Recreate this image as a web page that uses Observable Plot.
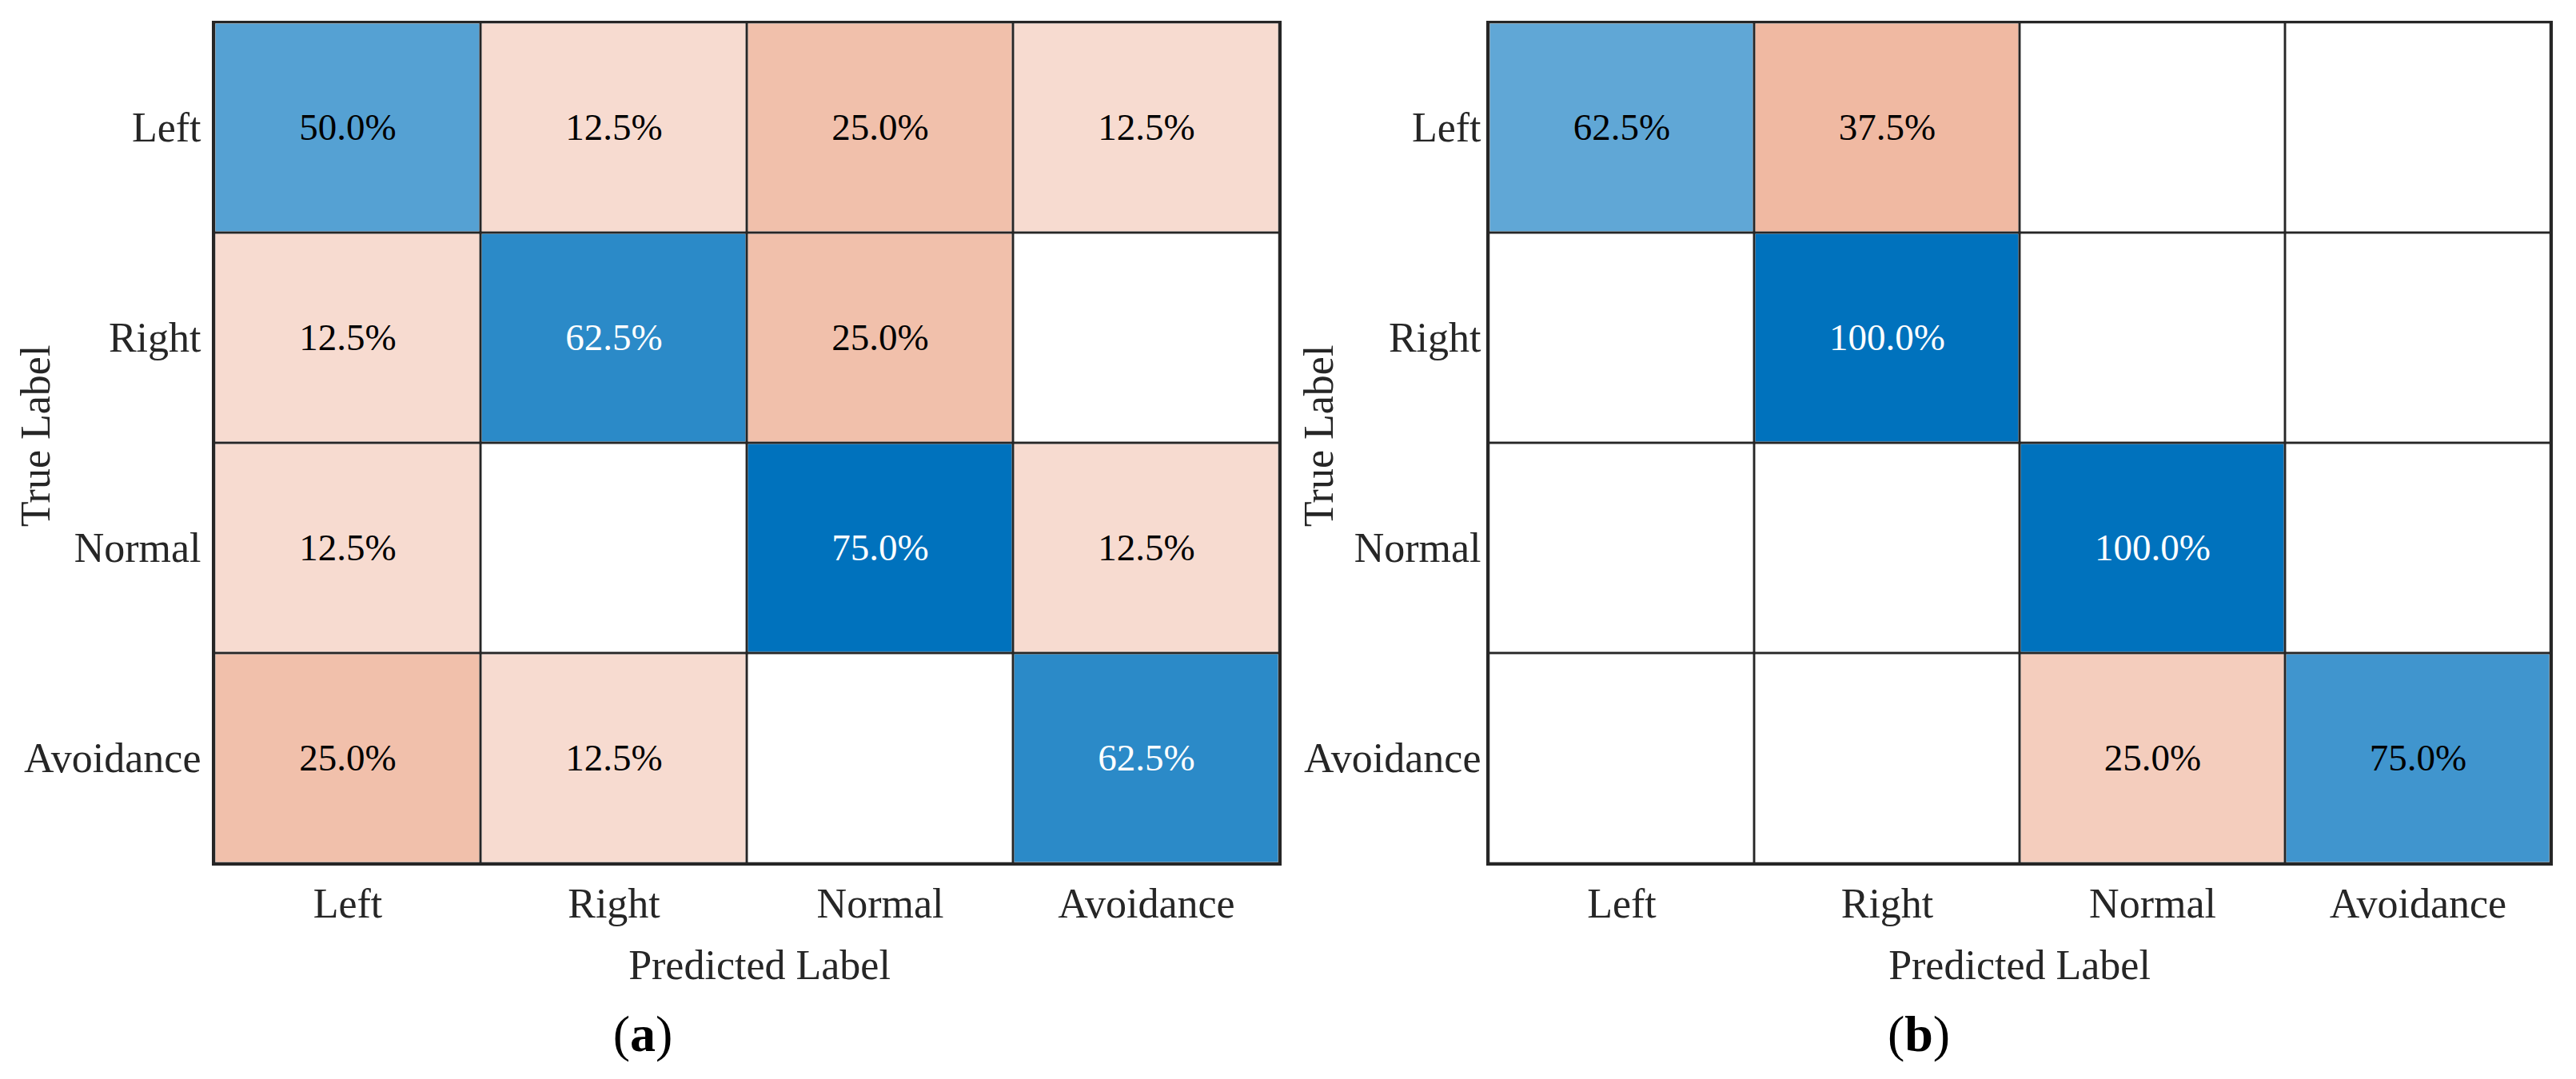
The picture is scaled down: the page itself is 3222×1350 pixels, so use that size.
<!DOCTYPE html>
<html><head><meta charset="utf-8">
<script src="https://cdn.jsdelivr.net/npm/d3@7"></script>
<script src="https://cdn.jsdelivr.net/npm/@observablehq/plot@0.6"></script>
<style>
body{margin:0;background:#fff;}
#wrap{position:relative;width:3222px;height:1350px;overflow:hidden;font-family:"Liberation Serif",serif;}
.panel{position:absolute;top:0;}
.cap{position:absolute;top:1262px;font-size:64px;color:#000;transform:translateX(-50%);line-height:1;font-family:"Liberation Serif",serif;}
.cap b{font-weight:bold;}
</style></head><body>
<div id="wrap"></div>
<script>
const classes = ["Left", "Right", "Normal", "Avoidance"];
// rows = true label, columns = predicted label (percent)
const matrixA = [
  [50.0, 12.5, 25.0, 12.5],
  [12.5, 62.5, 25.0, 0],
  [12.5, 0, 75.0, 12.5],
  [25.0, 12.5, 0, 62.5]
];
const matrixB = [
  [62.5, 37.5, 0, 0],
  [0, 100.0, 0, 0],
  [0, 0, 100.0, 0],
  [0, 0, 25.0, 75.0]
];
const xTitle = "Predicted Label";
const yTitle = "True Label";
const diagColor = "#0072BD";
const offColor = "#D95319";
const offTint = "#FDF6F4";

function panel(matrix, opt) {
  const all = [];
  matrix.forEach((row, i) => row.forEach((v, j) => all.push({t: classes[i], p: classes[j], v, diag: i === j})));
  const cells = all.filter(d => d.v > 0);
  const max = d3.max(cells, d => d.v);
  cells.forEach(d => { d.s = d.diag ? d.v : -d.v; d.r = d.v / max; });
  const fam = "Liberation Serif";
  return Plot.plot({
    width: 1611, height: 1250,
    marginLeft: opt.ml, marginRight: opt.mr, marginTop: 27, marginBottom: 169,
    style: {fontFamily: fam, fontSize: "52px", color: "#262626", background: "white"},
    x: {domain: classes, padding: 0, label: null},
    y: {domain: classes, padding: 0, label: null},
    color: {type: "linear", domain: [-max, -1e-6, 0, max], range: [offColor, offTint, "#ffffff", diagColor], interpolate: "rgb"},
    marks: [
      Plot.cell(cells, {x: "p", y: "t", fill: "s", inset: 1.5}),
      Plot.cell(all, {x: "p", y: "t", fill: "none", stroke: "#262626", strokeWidth: 2.5}),
      Plot.frame({stroke: "#262626", strokeWidth: 3}),
      Plot.text(cells.filter(d => d.r <= 0.8), {x: "p", y: "t", text: d => d.v.toFixed(1) + "%", fill: "black", fontSize: 47, fontFamily: fam}),
      Plot.text(cells.filter(d => d.r > 0.8), {x: "p", y: "t", text: d => d.v.toFixed(1) + "%", fill: "white", fontSize: 47, fontFamily: fam}),
      Plot.axisX({tickSize: 0, tickPadding: 30, label: null, fontSize: 52, fontFamily: fam}),
      Plot.axisY({tickSize: 0, tickPadding: opt.yPad, label: null, fontSize: 52, fontFamily: fam}),
      Plot.text([xTitle], {frameAnchor: "bottom", dy: 127, dx: opt.xdx, fontSize: 52, fontFamily: fam, fill: "#262626", lineAnchor: "middle", textAnchor: "middle"}),
      Plot.text([yTitle], {frameAnchor: "left", dx: -opt.ylab, dy: -9, rotate: -90, fontSize: 52, fontFamily: fam, fill: "#262626", lineAnchor: "middle", textAnchor: "middle"})
    ]
  });
}

const wrap = document.getElementById("wrap");
const a = panel(matrixA, {ml: 266, mr: 10, yPad: 15, ylab: 221, xdx: 16});
a.classList.add("panel"); a.style.left = "0px";
const b = panel(matrixB, {ml: 249, mr: 31, yPad: 8, ylab: 210, xdx: 0});
b.classList.add("panel"); b.style.left = "1611px";
wrap.appendChild(a); wrap.appendChild(b);
const ca = document.createElement("div"); ca.className = "cap"; ca.style.left = "804px"; ca.innerHTML = "(<b>a</b>)";
const cb = document.createElement("div"); cb.className = "cap"; cb.style.left = "2400px"; cb.innerHTML = "(<b>b</b>)";
wrap.appendChild(ca); wrap.appendChild(cb);
</script>
</body></html>
